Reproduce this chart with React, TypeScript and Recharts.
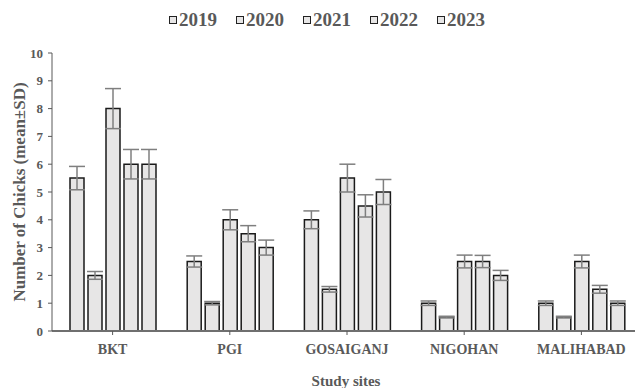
import React from "react";
import { Bar, BarChart, ErrorBar, XAxis, YAxis } from "recharts";

const sites = ["BKT", "PGI", "GOSAIGANJ", "NIGOHAN", "MALIHABAD"];
const years = ["2019", "2020", "2021", "2022", "2023"];

// mean number of chicks per site, one array per year
const mean2019 = [5.5, 2.5, 4, 1, 1];
const mean2020 = [2, 1, 1.5, 0.5, 0.5];
const mean2021 = [8, 4, 5.5, 2.5, 2.5];
const mean2022 = [6, 3.5, 4.5, 2.5, 1.5];
const mean2023 = [6, 3, 5, 2, 1];

// standard deviations
const sd2019 = [0.42, 0.2, 0.32, 0.08, 0.08];
const sd2020 = [0.14, 0.06, 0.1, 0.03, 0.03];
const sd2021 = [0.72, 0.36, 0.5, 0.23, 0.23];
const sd2022 = [0.53, 0.29, 0.4, 0.22, 0.14];
const sd2023 = [0.53, 0.27, 0.45, 0.18, 0.08];

const yTicks = [0, 1, 2, 3, 4, 5, 6, 7, 8, 9, 10];

const means = [mean2019, mean2020, mean2021, mean2022, mean2023];
const sds = [sd2019, sd2020, sd2021, sd2022, sd2023];

const data = sites.map((site, i) => {
  const row: Record<string, string | number> = { site };
  years.forEach((y, k) => {
    row["y" + y] = means[k][i];
    row["e" + y] = sds[k][i];
  });
  return row;
});

const ink = "#595959";
const font = "'Liberation Serif', 'Times New Roman', serif";

export default function App() {
  return (
    <div
      style={{
        position: "absolute",
        left: 0,
        top: 0,
        width: 635,
        height: 388,
        overflow: "hidden",
        background: "#fff",
        fontFamily: font,
      }}
    >
      <div
        style={{
          position: "absolute",
          top: 8,
          left: 169,
          display: "flex",
          gap: 19,
          fontSize: 19,
          fontWeight: "bold",
          color: ink,
          lineHeight: "24px",
        }}
      >
        {years.map((y) => (
          <span key={y} style={{ display: "flex", alignItems: "center", gap: 2 }}>
            <span
              style={{
                display: "inline-block",
                width: 6,
                height: 6,
                background: "#e7e6e6",
                border: "1.5px solid #222",
              }}
            />
            {y}
          </span>
        ))}
      </div>
      <BarChart
        width={640}
        height={388}
        data={data}
        margin={{ top: 53, right: 0, bottom: 0, left: 0 }}
        barSize={14}
        barGap={4}
        style={{ position: "absolute", left: 0, top: 0 }}
      >
        <XAxis
          dataKey="site"
          height={57}
          padding={{ left: 2, right: 0 }}
          tick={{ fontSize: 14, fontWeight: "bold", fill: ink, fontFamily: font }}
          tickSize={4}
          tickMargin={9}
          axisLine={{ stroke: "#6f6f6f", strokeWidth: 2 }}
          tickLine={{ stroke: ink }}
          label={{
            value: "Study sites",
            position: "insideBottom",
            offset: 2,
            fill: ink,
            fontSize: 15,
            fontWeight: "bold",
            fontFamily: font,
          }}
        />
        <YAxis
          domain={[0, 10]}
          ticks={yTicks}
          interval={0}
          width={52}
          tick={{ fontSize: 13, fontWeight: "bold", fill: ink, fontFamily: font }}
          tickSize={4}
          tickMargin={5}
          axisLine={{ stroke: ink }}
          tickLine={{ stroke: ink }}
          label={{
            value: "Number of Chicks (mean±SD)",
            angle: -90,
            position: "insideLeft",
            offset: 19,
            fill: ink,
            fontSize: 17,
            fontWeight: "bold",
            fontFamily: font,
            style: { textAnchor: "middle" },
          }}
        />
        {years.map((y) => (
          <Bar
            key={y}
            dataKey={"y" + y}
            name={y}
            fill="#e7e6e6"
            stroke="#1a1a1a"
            strokeWidth={1.5}
            isAnimationActive={false}
          >
            <ErrorBar
              dataKey={"e" + y}
              width={8}
              stroke="#7f7f7f"
              strokeWidth={1.5}
              isAnimationActive={false}
            />
          </Bar>
        ))}
      </BarChart>
    </div>
  );
}
